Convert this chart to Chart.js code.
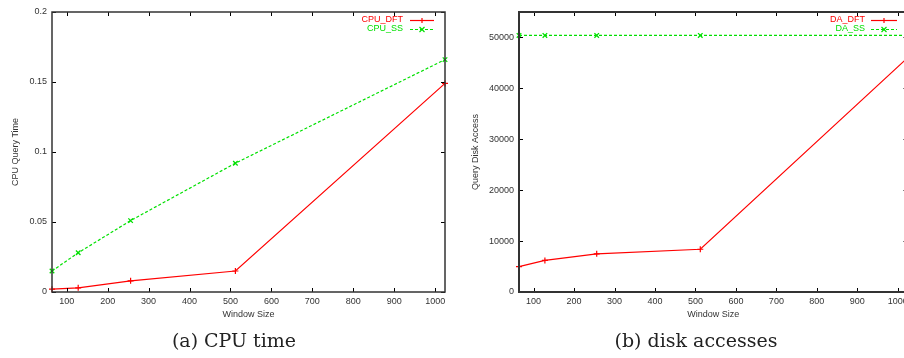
<!DOCTYPE html>
<html>
<head>
<meta charset="utf-8">
<script src="https://cdn.jsdelivr.net/npm/chart.js@4"></script>
<style>
html, body { margin: 0; padding: 0; background: #fff; width: 904px; height: 358px; overflow: hidden; position: relative; }
.box { position: absolute; top: 0; width: 460px; height: 330px; }
.box canvas { display: block; }
.cap { position: absolute; top: 329px; font-family: "DejaVu Serif", serif; font-size: 19px; color: #222; white-space: nowrap; transform: translateX(-50%); }
</style>
</head>
<body>
<div class="box" style="left:0"><canvas id="cpu"></canvas></div>
<div class="box" style="left:460px"><canvas id="disk"></canvas></div>
<div class="cap" style="left:234px">(a) CPU time</div>
<div class="cap" style="left:696px">(b) disk accesses</div>
<script>
// values
const windowSizes = [64, 128, 256, 512, 1024];
const cpuDft = [0.002, 0.003, 0.008, 0.015, 0.149];
const cpuSs  = [0.015, 0.028, 0.051, 0.092, 0.166];
const daDft  = [5000, 6200, 7500, 8400, 46000];
const daSs   = [50400, 50400, 50400, 50400, 50400];

const xTicks   = [100, 200, 300, 400, 500, 600, 700, 800, 900, 1000];
const cpuTicks = [0, 0.05, 0.1, 0.15, 0.2];
const daTicks  = [0, 10000, 20000, 30000, 40000, 50000];

const RED = '#ff0000';
const GREEN = '#00e000';
const INK = '#333';
const FONT = { family: 'Liberation Sans, Arial, sans-serif', size: 9 };

function pts(ys) { return windowSizes.map((x, i) => ({ x, y: ys[i] })); }

function drawMark(ctx, style, x, y, r) {
    ctx.beginPath();
    if (style === 'cross') {
        ctx.moveTo(x - r, y); ctx.lineTo(x + r, y);
        ctx.moveTo(x, y - r); ctx.lineTo(x, y + r);
    } else {
        ctx.moveTo(x - r, y - r); ctx.lineTo(x + r, y + r);
        ctx.moveTo(x - r, y + r); ctx.lineTo(x + r, y - r);
    }
    ctx.stroke();
}

// gnuplot style box with inward ticks on all four sides
const framePlugin = {
    id: 'frame',
    afterDatasetsDraw(chart) {
        const { ctx, chartArea: a, scales: { x, y } } = chart;
        ctx.save();
        ctx.strokeStyle = '#000';
        ctx.lineWidth = 1;
        ctx.beginPath();
        x.ticks.forEach(t => {
            const px = Math.round(x.getPixelForValue(t.value)) + 0.5;
            ctx.moveTo(px, a.bottom); ctx.lineTo(px, a.bottom - 4);
            ctx.moveTo(px, a.top); ctx.lineTo(px, a.top + 4);
        });
        y.ticks.forEach(t => {
            const py = Math.round(y.getPixelForValue(t.value)) + 0.5;
            ctx.moveTo(a.left, py); ctx.lineTo(a.left + 4, py);
            ctx.moveTo(a.right, py); ctx.lineTo(a.right - 4, py);
        });
        ctx.stroke();
        ctx.strokeStyle = INK;
        ctx.lineWidth = chart.options.plugins.frame.width;
        ctx.strokeRect(a.left, a.top, a.right - a.left, a.bottom - a.top);
        ctx.restore();
    }
};

// key in the top right corner: right aligned label, then a line sample
const keyPlugin = {
    id: 'gpKey',
    afterDraw(chart, args, opts) {
        const { ctx } = chart;
        ctx.save();
        ctx.font = FONT.size + 'px ' + FONT.family;
        ctx.textAlign = 'right';
        ctx.textBaseline = 'middle';
        chart.data.datasets.forEach((ds, i) => {
            const yy = opts.rows[i];
            ctx.fillStyle = ds.borderColor;
            ctx.fillText(ds.label, opts.textRight, yy);
            ctx.strokeStyle = ds.borderColor;
            ctx.lineWidth = 1.2;
            ctx.setLineDash(ds.borderDash || []);
            ctx.beginPath();
            ctx.moveTo(opts.lineFrom, yy + 0.5);
            ctx.lineTo(opts.lineTo, yy + 0.5);
            ctx.stroke();
            ctx.setLineDash([]);
            drawMark(ctx, ds.pointStyle, (opts.lineFrom + opts.lineTo) / 2, yy + 0.5, 2.5);
        });
        ctx.restore();
    }
};

function makeChart(id, cfg) {
    const el = document.getElementById(id);
    el.width = 460; el.height = 330;
    return new Chart(el, {
        type: 'line',
        data: {
            datasets: [
                { label: cfg.labels[0], data: pts(cfg.dft), borderColor: RED, backgroundColor: RED,
                  borderWidth: 1.2, pointStyle: 'cross', pointRadius: 3, pointBorderWidth: 1.2, clip: false },
                { label: cfg.labels[1], data: pts(cfg.ss), borderColor: GREEN, backgroundColor: GREEN,
                  borderWidth: 1.2, borderDash: [3, 2], pointStyle: 'crossRot', pointRadius: 3.2, pointBorderWidth: 1.3, clip: false }
            ]
        },
        options: {
            responsive: false,
            animation: false,
            layout: { padding: { top: 12, right: cfg.padRight, left: 0, bottom: 0 } },
            plugins: {
                legend: { display: false },
                tooltip: { enabled: false },
                frame: { width: cfg.frameWidth },
                gpKey: cfg.key
            },
            scales: {
                x: {
                    type: 'linear', min: 64, max: 1024,
                    afterBuildTicks: s => { s.ticks = xTicks.map(v => ({ value: v })); },
                    afterFit: s => { s.height = 38; },
                    grid: { display: false, drawTicks: false },
                    border: { display: false },
                    ticks: { font: FONT, color: INK, padding: 4, maxRotation: 0, autoSkip: false, callback: v => String(v) },
                    title: { display: true, text: 'Window Size', font: FONT, color: INK, padding: { top: 0, bottom: 10 } }
                },
                y: {
                    type: 'linear', min: 0, max: cfg.yMax,
                    afterBuildTicks: s => { s.ticks = cfg.yTicks.map(v => ({ value: v })); },
                    afterFit: s => { s.width = cfg.yWidth; },
                    grid: { display: false, drawTicks: false },
                    border: { display: false },
                    ticks: { font: FONT, color: INK, padding: 5, autoSkip: false, callback: v => String(v) },
                    title: { display: true, text: cfg.yTitle, font: FONT, color: INK, padding: { top: 10, bottom: 0 } }
                }
            }
        },
        plugins: [framePlugin, keyPlugin]
    });
}

makeChart('cpu', {
    labels: ['CPU_DFT', 'CPU_SS'], dft: cpuDft, ss: cpuSs,
    yMax: 0.2, yTicks: cpuTicks, yTitle: 'CPU Query Time',
    yWidth: 52, padRight: 15, frameWidth: 1.5,
    key: { textRight: 403, lineFrom: 410, lineTo: 434, rows: [20, 29] }
});

makeChart('disk', {
    labels: ['DA_DFT', 'DA_SS'], dft: daDft, ss: daSs,
    yMax: 55000, yTicks: daTicks, yTitle: 'Query Disk Access',
    yWidth: 59, padRight: 12.5, frameWidth: 2,
    key: { textRight: 405, lineFrom: 411, lineTo: 437, rows: [20, 29] }
});
</script>
</body>
</html>
